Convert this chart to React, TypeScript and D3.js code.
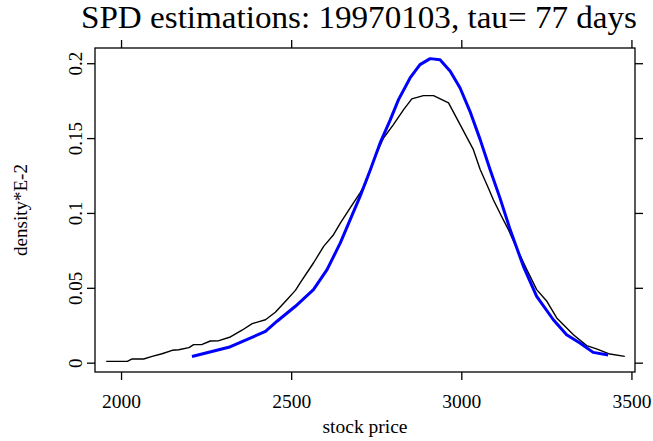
import React from "react";
import * as d3 from "d3";

const blackX = [1955, 2017, 2031, 2065, 2090, 2119, 2149, 2168, 2198, 2212, 2237, 2261, 2286, 2320, 2354, 2384, 2423, 2452, 2486, 2511, 2525, 2564, 2594, 2623, 2643, 2672, 2701, 2716, 2731, 2750, 2770, 2799, 2829, 2853, 2887, 2917, 2961, 2995, 3034, 3054, 3078, 3093, 3117, 3137, 3161, 3191, 3220, 3250, 3279, 3328, 3367, 3396, 3435, 3479];
const blackY = [0.0012, 0.0012, 0.0028, 0.0028, 0.0045, 0.0063, 0.0086, 0.009, 0.0104, 0.0124, 0.0125, 0.0148, 0.015, 0.0175, 0.022, 0.0264, 0.029, 0.034, 0.0424, 0.0486, 0.0536, 0.0669, 0.078, 0.0858, 0.0936, 0.1037, 0.1137, 0.1192, 0.129, 0.1404, 0.1504, 0.1593, 0.1693, 0.1765, 0.1787, 0.1787, 0.1738, 0.1593, 0.1426, 0.1293, 0.117, 0.109, 0.098, 0.0892, 0.077, 0.0625, 0.0491, 0.0413, 0.0302, 0.019, 0.0117, 0.0095, 0.0061, 0.0045];

const blueX = [2207, 2315, 2423, 2457, 2511, 2564, 2604, 2643, 2672, 2701, 2731, 2760, 2790, 2814, 2848, 2877, 2907, 2936, 2966, 2995, 3024, 3054, 3083, 3112, 3142, 3181, 3220, 3269, 3308, 3347, 3386, 3430];
const blueY = [0.0045, 0.0106, 0.0212, 0.028, 0.038, 0.0491, 0.0625, 0.0803, 0.0959, 0.1114, 0.129, 0.1471, 0.1627, 0.176, 0.1905, 0.1994, 0.2034, 0.2027, 0.195, 0.1838, 0.1682, 0.1493, 0.1293, 0.1104, 0.0892, 0.0647, 0.0446, 0.029, 0.019, 0.0135, 0.0072, 0.0055];

const xTicks = [2000, 2500, 3000, 3500];
const yTicks = [0, 0.05, 0.1, 0.15, 0.2];
const yTickLabels = ["0", "0.05", "0.1", "0.15", "0.2"];

const titleText = "SPD estimations: 19970103, tau= 77 days";
const xLabel = "stock price";
const yLabel = "density*E-2";

export default function App() {
  const W = 653, H = 441;
  const left = 95, right = 635, top = 48, bottom = 372;
  const x = d3.scaleLinear().domain([1922, 3509]).range([left, right]);
  const y = d3.scaleLinear().domain([-0.0059, 0.2105]).range([bottom, top]);
  const line = d3.line<[number, number]>().x(d => x(d[0])).y(d => y(d[1]));
  const blackPts = blackX.map((v, i) => [v, blackY[i]] as [number, number]);
  const bluePts = blueX.map((v, i) => [v, blueY[i]] as [number, number]);
  const font = "'Liberation Serif', 'Times New Roman', serif";
  const tl = 8;
  return (
    <svg width={W} height={H} style={{ position: "absolute", left: 0, top: 0, background: "#fff" }} fontFamily={font}>
      <rect x={0} y={0} width={W} height={H} fill="#fff" />
      <text x={81} y={28} fontSize={31} textLength={556} lengthAdjust="spacingAndGlyphs">{titleText}</text>
      <rect x={left} y={top} width={right - left} height={bottom - top} fill="none" stroke="#000" strokeWidth={1.3} />
      {xTicks.map(t => (
        <g key={"x" + t}>
          <line x1={x(t)} x2={x(t)} y1={bottom} y2={bottom + tl} stroke="#000" strokeWidth={1.3} />
          <line x1={x(t)} x2={x(t)} y1={top} y2={top - tl} stroke="#000" strokeWidth={1.3} />
          <text x={x(t)} y={408} textAnchor="middle" fontSize={19.5}>{t}</text>
        </g>
      ))}
      {yTicks.map((t, i) => (
        <g key={"y" + t}>
          <line x1={left} x2={left - tl} y1={y(t)} y2={y(t)} stroke="#000" strokeWidth={1.3} />
          <line x1={right} x2={right + tl} y1={y(t)} y2={y(t)} stroke="#000" strokeWidth={1.3} />
          <text transform={`translate(82,${y(t)}) rotate(-90)`} textAnchor="middle" fontSize={19}>{yTickLabels[i]}</text>
        </g>
      ))}
      <text x={(left + right) / 2} y={433} textAnchor="middle" fontSize={19.5}>{xLabel}</text>
      <text transform={`translate(27,${(top + bottom) / 2}) rotate(-90)`} textAnchor="middle" fontSize={19}>{yLabel}</text>
      <path d={line(blackPts) || ""} fill="none" stroke="#000" strokeWidth={1.4} strokeLinejoin="round" />
      <path d={line(bluePts) || ""} fill="none" stroke="#0000ff" strokeWidth={3} strokeLinejoin="round" />
    </svg>
  );
}
